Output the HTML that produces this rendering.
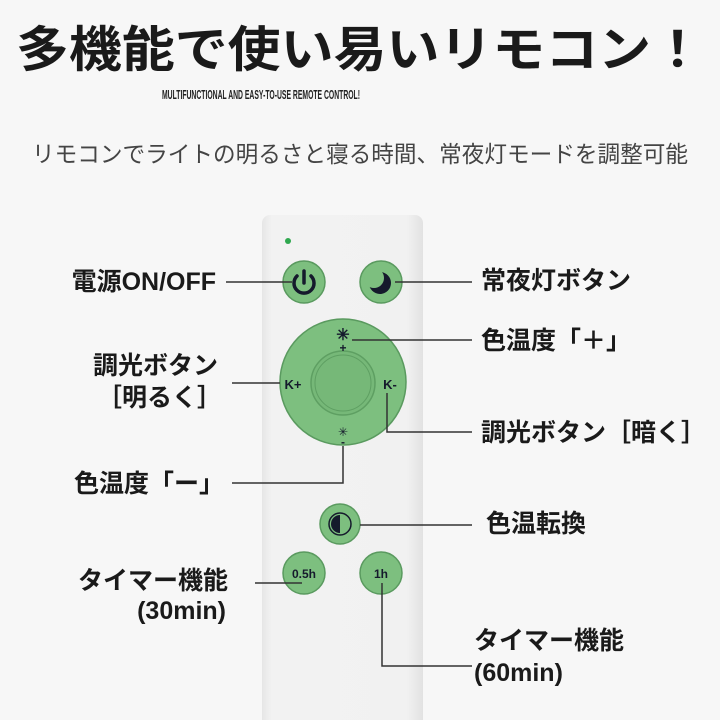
<!DOCTYPE html>
<html><head><meta charset="utf-8"><style>
html,body{margin:0;padding:0;background:#f7f7f7;}
svg{display:block}
text{font-family:"Liberation Sans","Noto Sans CJK JP",sans-serif;}
.lb{font-size:25px;font-weight:bold;fill:#1a1a1a}
</style></head><body>
<svg width="720" height="720" viewBox="0 0 720 720" xmlns="http://www.w3.org/2000/svg">
<rect width="720" height="720" fill="#f7f7f7"/>
<text x="360" y="66" text-anchor="middle" font-size="45" font-weight="bold" fill="#1a1a1a" textLength="688" lengthAdjust="spacingAndGlyphs" transform="translate(0,-5) scale(1,1.08)">多機能で使い易いリモコン！</text>
<text x="261" y="99" text-anchor="middle" font-size="13" font-weight="bold" fill="#222" textLength="198" lengthAdjust="spacingAndGlyphs">MULTIFUNCTIONAL AND EASY-TO-USE REMOTE CONTROL!</text>
<text x="360" y="162" text-anchor="middle" font-size="23" fill="#444" textLength="656" lengthAdjust="spacingAndGlyphs">リモコンでライトの明るさと寝る時間、常夜灯モードを調整可能</text>
<defs><linearGradient id="rg" x1="0" x2="1"><stop offset="0" stop-color="#e6e6e6"/><stop offset="0.06" stop-color="#f2f2f2"/><stop offset="0.9" stop-color="#f1f1f1"/><stop offset="1" stop-color="#e2e2e2"/></linearGradient></defs>
<rect x="262" y="215" width="161" height="520" rx="8" fill="url(#rg)"/>
<circle cx="288" cy="241" r="3" fill="#2fa84f"/>
<g stroke="#5a9a5f" stroke-width="1.5" fill="#7dbf7f">
<circle cx="304" cy="282" r="21"/><circle cx="381" cy="282" r="21"/>
<circle cx="343" cy="382" r="63"/>
<circle cx="340" cy="524" r="20"/>
<circle cx="304" cy="573" r="21"/><circle cx="381" cy="573" r="21"/>
</g>
<circle cx="343" cy="383" r="32" fill="#76b878" stroke="#5e9f62" stroke-width="1.5"/>
<circle cx="343" cy="383" r="28" fill="#76b878" stroke="#5e9f62" stroke-width="1"/>
<path d="M297 276 A10 10 0 1 0 311 276" fill="none" stroke="#151a2c" stroke-width="3.5" stroke-linecap="round"/>
<line x1="304" y1="271" x2="304" y2="283" stroke="#151a2c" stroke-width="3.5" stroke-linecap="round"/>
<circle cx="380" cy="283" r="11" fill="#151a2c"/>
<circle cx="374" cy="278" r="10" fill="#7dbf7f"/>
<circle cx="340" cy="524" r="11" fill="none" stroke="#151a2c" stroke-width="1.5"/>
<path d="M340 515 A9 9 0 0 0 340 533Z" fill="#151a2c"/>
<text x="343" y="340" text-anchor="middle" font-size="16" font-weight="bold" fill="#151a2c">✳</text>
<text x="343" y="352" text-anchor="middle" font-size="12" font-weight="bold" fill="#151a2c">+</text>
<text x="343" y="436" text-anchor="middle" font-size="12" fill="#151a2c">✳</text>
<text x="343" y="446" text-anchor="middle" font-size="12" font-weight="bold" fill="#151a2c">-</text>
<text x="293" y="389" text-anchor="middle" font-size="13" font-weight="bold" fill="#151a2c">K+</text>
<text x="390" y="389" text-anchor="middle" font-size="13" font-weight="bold" fill="#151a2c">K-</text>
<text x="304" y="578" text-anchor="middle" font-size="12" font-weight="bold" fill="#151a2c">0.5h</text>
<text x="381" y="578" text-anchor="middle" font-size="12" font-weight="bold" fill="#151a2c">1h</text>
<g stroke="#333" stroke-width="1.5" fill="none">
<path d="M226 282 H292"/><path d="M395 282 H472"/>
<path d="M352 340 H472"/><path d="M232 383 H280"/>
<path d="M387 393 V432 H472"/><path d="M343 446 V483 H232"/>
<path d="M360 525 H472"/><path d="M255 583 H302"/>
<path d="M382 583 V666 H472"/>
</g>
<text class="lb" x="216" y="290" text-anchor="end">電源ON/OFF</text>
<text class="lb" x="218" y="374" text-anchor="end">調光ボタン</text>
<text class="lb" x="222" y="406" text-anchor="end">［明るく］</text>
<text class="lb" x="224" y="492" text-anchor="end">色温度「ー」</text>
<text class="lb" x="228" y="589" text-anchor="end">タイマー機能</text>
<text class="lb" x="226" y="619" text-anchor="end">(30min)</text>
<text class="lb" x="481" y="289">常夜灯ボタン</text>
<text class="lb" x="481" y="349">色温度「＋」</text>
<text class="lb" x="481" y="441">調光ボタン［暗く］</text>
<text class="lb" x="486" y="532">色温転換</text>
<text class="lb" x="474" y="649">タイマー機能</text>
<text class="lb" x="474" y="681">(60min)</text>
</svg>
</body></html>
